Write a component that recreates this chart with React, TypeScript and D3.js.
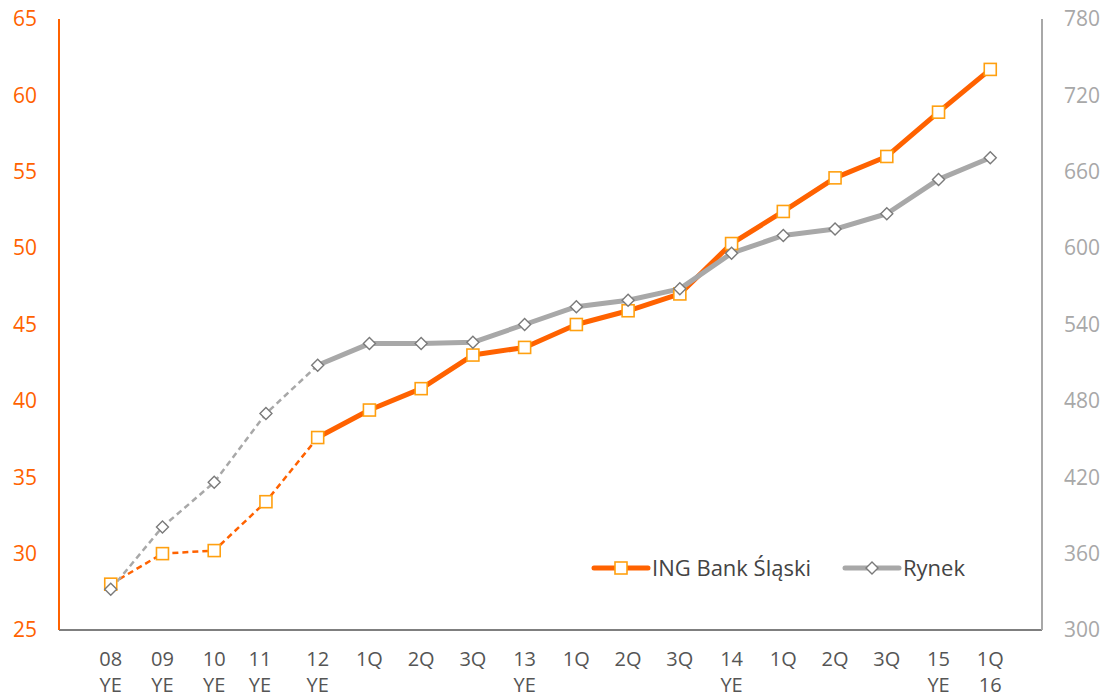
import React from "react";
import * as d3 from "d3";

const categories = ["08|YE", "09|YE", "10|YE", "11|YE", "12|YE", "1Q|", "2Q|", "3Q|", "13|YE", "1Q|", "2Q|", "3Q|", "14|YE", "1Q|", "2Q|", "3Q|", "15|YE", "1Q|16"];
const ingValues = [28.0, 30.0, 30.2, 33.4, 37.6, 39.4, 40.8, 43.0, 43.5, 45.0, 45.9, 47.0, 50.3, 52.4, 54.6, 56.0, 58.9, 61.7];
const rynekValues = [332, 381, 416, 470, 508, 525, 525, 526, 540, 554, 559, 568, 596, 610, 615, 627, 654, 671];
const leftTicks = [25, 30, 35, 40, 45, 50, 55, 60, 65];
const rightTicks = [300, 360, 420, 480, 540, 600, 660, 720, 780];
const dashedUntil = 4;
const seriesNames = ["ING Bank Śląski", "Rynek"];

const W = 1102, H = 697;
const L = 59, R = 1042, T = 19, B = 630;
const FONT = "'Open Sans', sans-serif";
const ORANGE = "#FF6200";
const MARK_ORANGE = "#FFA010";
const GRAY = "#A8A8A8";

export default function App() {
  const idx = categories.map((_, i) => String(i));
  const x = d3.scalePoint<string>().domain(idx).range([L, R]).padding(1);
  const yL = d3.scaleLinear().domain([25, 65]).range([B, T]);
  const yR = d3.scaleLinear().domain([300, 780]).range([B, T]);

  const ingPts: [number, number][] = ingValues.map((v, i) => [x(String(i))!, yL(v)]);
  const ryPts: [number, number][] = rynekValues.map((v, i) => [x(String(i))!, yR(v)]);
  const line = d3.line();

  const square = (cx: number, cy: number, key: string) => (
    <rect key={key} x={cx - 6} y={cy - 6} width={12} height={12} fill="#fff" stroke={MARK_ORANGE} strokeWidth={1.6} />
  );
  const diamond = (cx: number, cy: number, key: string) => (
    <path key={key} d={`M${cx},${cy - 6}L${cx + 6},${cy}L${cx},${cy + 6}L${cx - 6},${cy}Z`} fill="#fff" stroke="#7a7a7a" strokeWidth={1.4} />
  );

  const legY = 568;
  return (
    <svg width={W} height={H} style={{ position: "absolute", left: 0, top: 0, fontFamily: FONT }}>
      <rect width={W} height={H} fill="#fff" />
      {/* axes */}
      <line x1={L} x2={R} y1={B} y2={B} stroke="#555" strokeWidth={1.5} />
      <line x1={L} x2={L} y1={T} y2={B} stroke={ORANGE} strokeWidth={2} />
      <line x1={R} x2={R} y1={T} y2={B} stroke={GRAY} strokeWidth={2} />
      {leftTicks.map((t) => (
        <text key={"l" + t} x={37} y={yL(t)} dy="0.35em" textAnchor="end" fill={ORANGE} fontSize={21}>{t}</text>
      ))}
      {rightTicks.map((t) => (
        <text key={"r" + t} x={1064} y={yR(t)} dy="0.35em" textAnchor="start" fill={GRAY} fontSize={21}>{t}</text>
      ))}
      {categories.map((c, i) => {
        const [a, b] = c.split("|");
        const cx = x(String(i))! + (i === 3 ? -6 : 0);
        return (
          <g key={"x" + i}>
            <text x={cx} y={666} textAnchor="middle" fill="#555" fontSize={20}>{a}</text>
            {b && <text x={cx} y={692} textAnchor="middle" fill="#555" fontSize={20}>{b}</text>}
          </g>
        );
      })}
      {/* ING */}
      <path d={line(ingPts.slice(0, dashedUntil + 1))!} fill="none" stroke={ORANGE} strokeWidth={2.5} strokeDasharray="6,4" />
      <path d={line(ingPts.slice(dashedUntil))!} fill="none" stroke={ORANGE} strokeWidth={5} strokeLinejoin="round" />
      {/* Rynek */}
      <path d={line(ryPts.slice(0, dashedUntil + 1))!} fill="none" stroke={GRAY} strokeWidth={2.5} strokeDasharray="6,4" />
      <path d={line(ryPts.slice(dashedUntil))!} fill="none" stroke={GRAY} strokeWidth={5} strokeLinejoin="round" />
      {ingPts.map(([px, py], i) => square(px, py, "s" + i))}
      {ryPts.map(([px, py], i) => diamond(px, py, "d" + i))}
      {/* legend */}
      <line x1={594} x2={648} y1={legY} y2={legY} stroke={ORANGE} strokeWidth={5} strokeLinecap="round" />
      {square(621, legY, "ls")}
      <text x={652} y={legY} dy="0.35em" fill="#444" fontSize={22}>{seriesNames[0]}</text>
      <line x1={845} x2={899} y1={legY} y2={legY} stroke={GRAY} strokeWidth={5} strokeLinecap="round" />
      {diamond(872, legY, "ld")}
      <text x={903} y={legY} dy="0.35em" fill="#444" fontSize={22}>{seriesNames[1]}</text>
    </svg>
  );
}
